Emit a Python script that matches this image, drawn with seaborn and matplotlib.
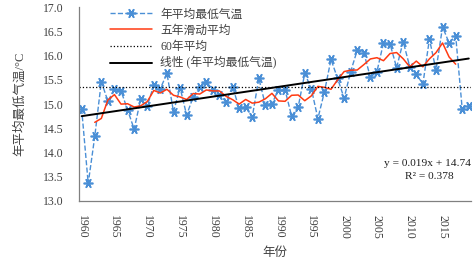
import numpy as np
import pandas as pd
import matplotlib
matplotlib.use('Agg')
import matplotlib.pyplot as plt
import matplotlib.ticker as mticker
import seaborn as sns

# data
years = list(range(1960, 2020))
tmin = [14.90, 13.36, 14.33, 15.46, 15.06, 15.30, 15.27, 14.88, 14.48, 15.10,
        14.96, 15.39, 15.32, 15.63, 14.84, 15.34, 14.77, 15.15, 15.36, 15.46,
        15.29, 15.19, 15.05, 15.36, 14.91, 14.94, 14.73, 15.53, 14.98, 15.01,
        15.29, 15.29, 14.75, 14.94, 15.63, 15.32, 14.70, 15.25, 15.92, 15.53,
        15.12, 15.67, 16.11, 16.06, 15.55, 15.67, 16.26, 16.24, 15.75, 16.29,
        15.77, 15.62, 15.41, 16.34, 15.70, 16.59, 16.26, 16.41, 14.89, 14.96]
labels = ['年平均最低气温', '五年滑动平均', '60年平均', '线性 (年平均最低气温)']
eq_text = 'y = 0.019x + 14.74'
r2_text = 'R² = 0.378'
ylabel = '年平均最低气温/°C'
xlabel = '年份'

sns.set_style('white')
plt.rcParams['font.family'] = ['Liberation Serif', 'Noto Sans CJK SC']
plt.rcParams['axes.unicode_minus'] = False

df = pd.DataFrame({'year': years, 'tmin': tmin})
df['ma5'] = df['tmin'].rolling(5, center=True).mean()
# linear trend on the index 1..60 like the Excel trendline
idx = np.arange(1, len(df) + 1)
k, b = np.polyfit(idx, df['tmin'], 1)
df['trend'] = k * idx + b
mean60 = df['tmin'].mean()

txt_col = '#404040'
fig = plt.figure(figsize=(4.76, 2.63), dpi=100)
ax = fig.add_axes([0.166, 0.236, 0.823, 0.737])

sns.lineplot(data=df, x='year', y='tmin', ax=ax, color='#4a8fd6', linestyle='--',
             linewidth=1.0, marker=(6, 2, 30), markersize=7, markeredgewidth=1.2,
             markeredgecolor='#4a8fd6', label=labels[0])
sns.lineplot(data=df, x='year', y='ma5', ax=ax, color='#ff3a12', linewidth=1.1,
             label=labels[1])
ax.axhline(mean60, color='black', linestyle=':', linewidth=0.9, label=labels[2])
sns.lineplot(data=df, x='year', y='trend', ax=ax, color='black', linewidth=1.4,
             label=labels[3])

ax.set_xlim(1959.6, 2019.3)
ax.set_ylim(13.0, 17.0)
ax.yaxis.set_major_locator(mticker.MultipleLocator(0.5))
ax.yaxis.set_major_formatter(mticker.FormatStrFormatter('%.1f'))
ax.xaxis.set_major_locator(mticker.MultipleLocator(5))
ax.xaxis.set_minor_locator(mticker.MultipleLocator(1))

for s in ['top', 'right']:
    ax.spines[s].set_visible(False)
for s in ['left', 'bottom']:
    ax.spines[s].set_color('#808080')
    ax.spines[s].set_linewidth(0.9)

ax.tick_params(axis='y', direction='in', length=4, width=0.8, color='#808080',
               labelsize=8.5, labelcolor=txt_col, pad=11)
ax.tick_params(axis='x', which='both', direction='out', length=4, width=0.8,
               color='#808080', labelsize=8.5, labelcolor=txt_col, pad=6)
plt.setp(ax.get_xticklabels(), rotation=-90, va='top', ha='center')

ax.set_xlabel(xlabel, fontsize=9, color=txt_col, labelpad=6)
ax.set_ylabel(ylabel, fontsize=9, color=txt_col, labelpad=12)

ax.legend(loc='upper left', bbox_to_anchor=(0.06, 1.03), frameon=False, fontsize=8.5,
          handlelength=3.6, handletextpad=0.7, labelspacing=0.35, borderaxespad=0.2,
          labelcolor=txt_col)

ax.text(1.0, 0.195, eq_text, transform=ax.transAxes, ha='right', va='center',
        fontsize=8.2, color='#202020')
ax.text(0.895, 0.128, r2_text, transform=ax.transAxes, ha='center', va='center',
        fontsize=8.2, color='#202020')

fig.savefig('out.png', dpi=100)
